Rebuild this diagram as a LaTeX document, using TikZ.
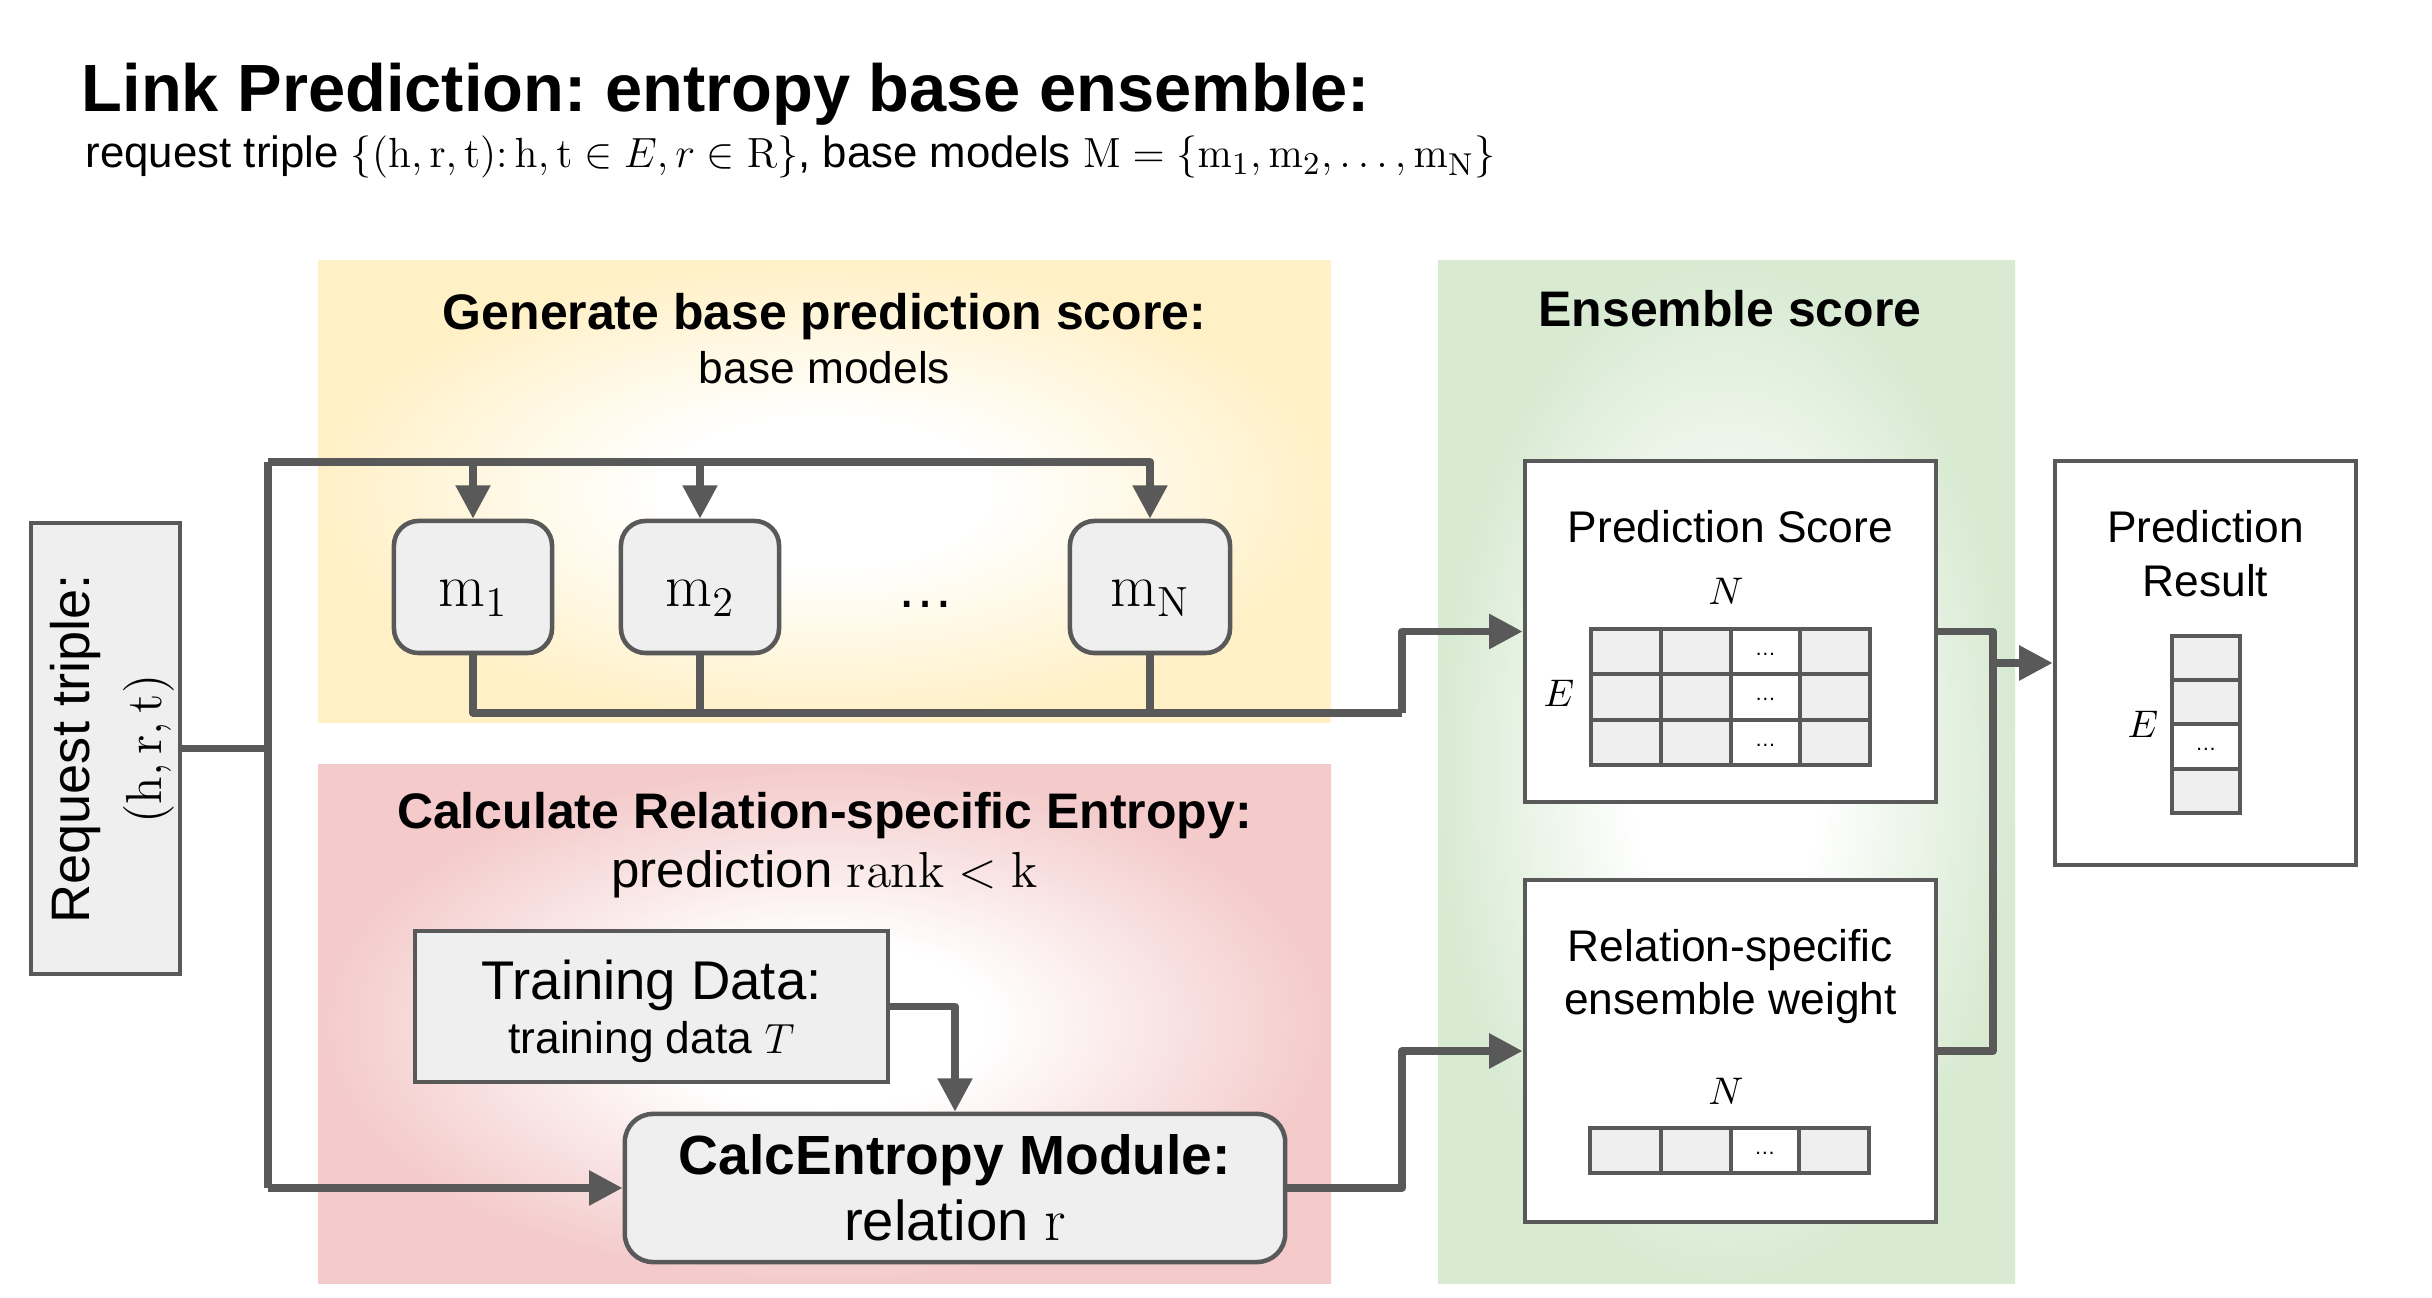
\documentclass[tikz,border=0pt]{standalone}
\usepackage[no-math]{fontspec}
\setmainfont{Liberation Sans}
\frenchspacing
\usetikzlibrary{arrows.meta}
\definecolor{ln}{HTML}{595959}
\definecolor{boxfill}{HTML}{EFEFEF}
\definecolor{yel}{HTML}{FFF0C6}
\definecolor{pnk}{HTML}{F4CACA}
\definecolor{grn}{HTML}{D8EAD2}
\pgfdeclareradialshading{yshade}{\pgfpoint{0bp}{0bp}}{color(0bp)=(white); color(8bp)=(white); color(25bp)=(yel); color(50bp)=(yel)}
\pgfdeclareradialshading{pshade}{\pgfpoint{0bp}{0bp}}{color(0bp)=(white); color(8bp)=(white); color(25bp)=(pnk); color(50bp)=(pnk)}
\pgfdeclareradialshading{gshade}{\pgfpoint{0bp}{0bp}}{color(0bp)=(white); color(8bp)=(white); color(25bp)=(grn); color(50bp)=(grn)}
\newcommand\fTitle{\bfseries\fontsize{19}{23}\selectfont}
\newcommand\fHead{\bfseries\fontsize{14.2}{17}\selectfont}
\newcommand\fNorm{\fontsize{12.6}{15}\selectfont}
\newcommand\fSub{\fontsize{12.45}{15}\selectfont}
\newcommand\fMid{\fontsize{14.5}{17}\selectfont}
\newcommand\fBig{\fontsize{15.5}{19}\selectfont}
\newcommand\fCalc{\bfseries\fontsize{15.7}{19}\selectfont}
\newcommand\fReq{\fontsize{15.4}{20.5}\selectfont}
\newcommand\fMath{\fontsize{11}{13}\selectfont}
\newcommand\fModel{\fontsize{16.5}{19}\selectfont}
\newcommand\fTiny{\fontsize{6}{7}\selectfont}
\tikzset{
  conn/.style={draw=ln, line width=2.1pt, line join=round},
  arr/.style={conn, -{Triangle[length=9.5pt,width=9.5pt]}},
  box/.style={draw=ln, line width=1.3pt, fill=boxfill, inner sep=0pt},
  wbox/.style={draw=ln, line width=1.3pt, fill=white, inner sep=0pt},
  mbox/.style={box, rounded corners=7pt},
  cellline/.style={draw=ln, line width=1.2pt},
  txt/.style={anchor=base, inner sep=0pt},
}
\begin{document}
\begin{tikzpicture}[x=0.01cm, y=-0.01cm]
\useasboundingbox (0,0) rectangle (2432,1298);
% panels
\shade[shading=yshade] (318,261) rectangle (1331,723);
\shade[shading=pshade] (318,765) rectangle (1331,1284);
\shade[shading=gshade] (1438,261) rectangle (2015,1284);

% title
\node[txt, anchor=base west, font=\fTitle] (title) at (81,112) {Link Prediction: entropy base ensemble:};
\node[txt, anchor=base west, font=\fSub] (subtitle) at (85,168) {request triple $\{(\mathrm{h},\mathrm{r},\mathrm{t})\colon \mathrm{h},\mathrm{t}\in E, r\in \mathrm{R}\}$, base models $\mathrm{M}=\{\mathrm{m}_1,\mathrm{m}_2,\ldots,\mathrm{m}_{\mathrm{N}}\}$};

% panel headings
\node[txt, font=\fHead] (hY) at (824.5,330) {Generate base prediction score:};
\node[txt, font=\fNorm] (hY2) at (824.5,384) {base models};
\node[txt, font=\fHead] (hP) at (824.5,829) {Calculate Relation-specific Entropy:};
\node[txt, font=\fMid] (hP2) at (824.5,888) {prediction $\mathrm{rank}<\mathrm{k}$};
\node[txt, font=\fHead] (hG) at (1730,327) {Ensemble score};

% request box
\node[box, minimum width=1.49cm, minimum height=4.51cm] (req) at (105.5,748.5) {};
\node[rotate=90, align=center, font=\fReq, inner sep=0pt] (reqtxt) at (112,749) {Request triple:\\ $(\mathrm{h},\mathrm{r},\mathrm{t})$};

% models
\node[mbox, minimum width=1.58cm, minimum height=1.32cm] (m1) at (473,587) {};
\node[mbox, minimum width=1.58cm, minimum height=1.32cm] (m2) at (700,587) {};
\node[mbox, minimum width=1.60cm, minimum height=1.32cm] (mN) at (1150,587) {};
\node[txt, font=\fModel] (m1t) at (m1.center |- 0,607) {$\mathrm{m}_1$};
\node[txt, font=\fModel] (m2t) at (m2.center |- 0,607) {$\mathrm{m}_2$};
\node[txt, font=\fModel] (mNt) at (mN.center |- 0,607) {$\mathrm{m}_{\mathrm{N}}$};
\node[txt, font=\fModel] (mdots) at (926,608) {\dots};

% training / calc
\node[box, minimum width=4.73cm, minimum height=1.51cm] (train) at (651.5,1006.5) {};
\node[txt, font=\fBig] (trainT) at (651.5,1000) {Training Data:};
\node[txt, font=\fNorm] (trainS) at (651.5,1054) {training data $T$};
\node[box, rounded corners=8pt, minimum width=6.60cm, minimum height=1.48cm] (calc) at (955,1188) {};
\node[txt, font=\fCalc] (calcT) at (955,1175) {CalcEntropy Module:};
\node[txt, font=\fontsize{16}{19}\selectfont] (calcS) at (955,1241) {relation $\mathrm{r}$};

% prediction score
\node[wbox, minimum width=4.11cm, minimum height=3.41cm] (score) at (1730.5,631.5) {};
\node[txt, font=\fNorm] (scoreT) at (1730.5,543) {Prediction Score};
\node[txt, font=\fMath] (scoreN) at (1726,605) {$N$};
\node[txt, font=\fMath] (scoreE) at (1559,707) {$E$};
\fill[boxfill] (1591,629) rectangle (1870,765);
\fill[white] (1731,629) rectangle (1800,765);
\draw[cellline] (1591,629) rectangle (1870,765);
\foreach \xx in {1661,1731,1800} \draw[cellline] (\xx,629) -- (\xx,765);
\foreach \yy in {674,720} \draw[cellline] (1591,\yy) -- (1870,\yy);
\node[font=\fTiny, inner sep=0pt] (sd1) at (1765.5,654) {\dots};
\node[font=\fTiny, inner sep=0pt] (sd2) at (1765.5,699) {\dots};
\node[font=\fTiny, inner sep=0pt] (sd3) at (1765.5,745) {\dots};

% relation weight
\node[wbox, minimum width=4.11cm, minimum height=3.42cm] (rel) at (1730.5,1051) {};
\node[txt, font=\fNorm] (relT1) at (1730.5,962) {Relation-specific};
\node[txt, font=\fNorm] (relT2) at (1730.5,1015) {ensemble weight};
\node[txt, font=\fMath] (relN) at (1726,1105) {$N$};
\fill[boxfill] (1590,1128) rectangle (1869,1173);
\fill[white] (1731,1128) rectangle (1799,1173);
\draw[cellline] (1590,1128) rectangle (1869,1173);
\foreach \xx in {1661,1731,1799} \draw[cellline] (\xx,1128) -- (\xx,1173);
\node[font=\fTiny, inner sep=0pt] (rd1) at (1765,1153) {\dots};

% prediction result
\node[wbox, minimum width=3.01cm, minimum height=4.04cm] (result) at (2205.5,663) {};
\node[txt, font=\fNorm] (resT1) at (2205.5,543) {Prediction};
\node[txt, font=\fNorm] (resT2) at (2205.5,597) {Result};
\node[txt, font=\fMath] (resE) at (2143,738) {$E$};
\fill[boxfill] (2172,636) rectangle (2240,813);
\fill[white] (2172,724) rectangle (2240,769);
\draw[cellline] (2172,636) rectangle (2240,813);
\foreach \yy in {680,724,769} \draw[cellline] (2172,\yy) -- (2240,\yy);
\node[font=\fTiny, inner sep=0pt] (resd) at (2206,749) {\dots};

% connectors
\coordinate (busTop) at (268,462);
\coordinate (busBot) at (268,1188);
\coordinate (j1) at (1402,713);
\coordinate (jr) at (1993,663);
\draw[conn] (req.east) -- (req.east -| busTop);
\draw[conn] (busBot) -- (busTop);
\draw[arr] (busTop) -| (mN.north);
\draw[arr] (m1.north |- busTop) -- (m1.north);
\draw[arr] (m2.north |- busTop) -- (m2.north);
\draw[arr] (busBot) -- (calc.west);
\draw[conn] (m1.south) |- (j1);
\draw[conn] (m2.south) -- (m2.south |- j1);
\draw[conn] (mN.south) -- (mN.south |- j1);
\draw[arr] (j1) |- (score.west);
\draw[arr] (train.east) -| (calc.north);
\draw[arr] (calc.east) -- (calc.east -| j1) |- (rel.west);
\draw[conn] (score.east) -| (jr);
\draw[conn] (rel.east) -| (jr);
\draw[arr] (jr) -- (result.west);
\end{tikzpicture}
\end{document}
